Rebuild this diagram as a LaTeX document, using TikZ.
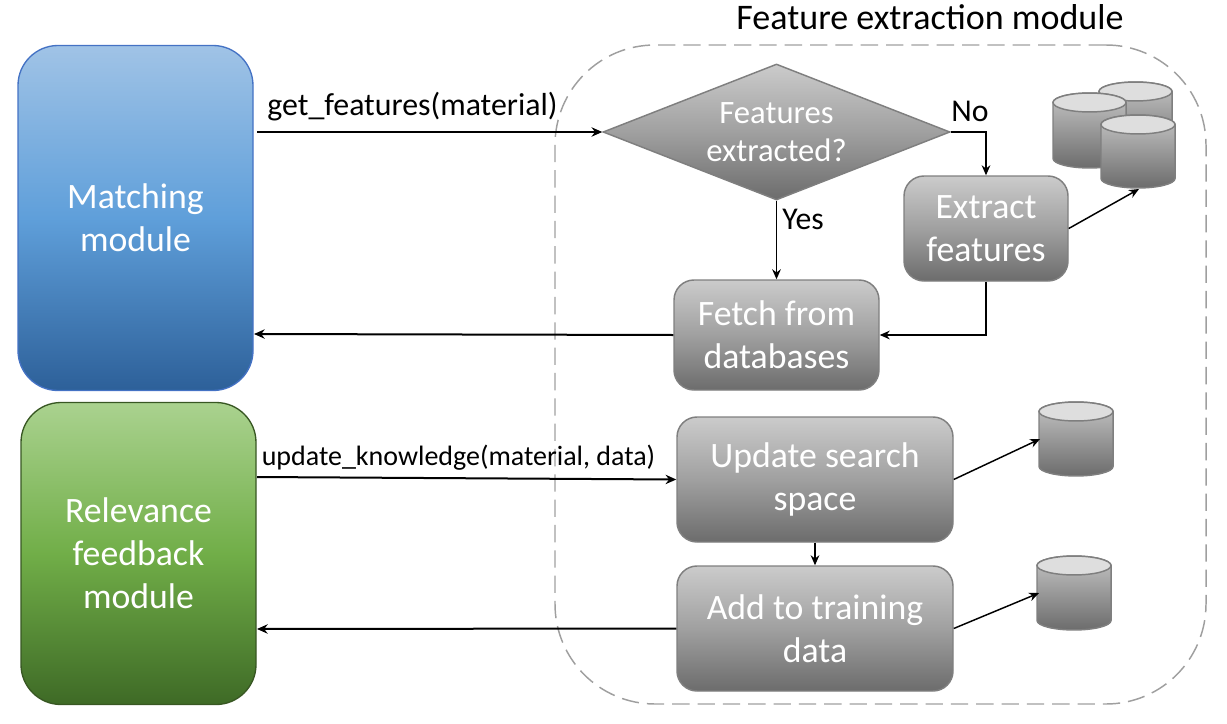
\documentclass[tikz,border=0pt]{standalone}
\usepackage{fontspec}
\setmainfont{Carlito}
\usetikzlibrary{shapes.geometric,arrows.meta}
\definecolor{gtop}{HTML}{CBCBCB}
\definecolor{gmid}{HTML}{A0A0A0}
\definecolor{gbot}{HTML}{6C6C6C}
\definecolor{gline}{HTML}{7F7F7F}
\definecolor{blueline}{HTML}{4472C4}
\definecolor{blueA}{HTML}{A0C3E6}
\definecolor{blueB}{HTML}{5F9FDA}
\definecolor{blueC}{HTML}{2D6099}
\definecolor{greenline}{HTML}{385723}
\definecolor{greenA}{HTML}{AAD28F}
\definecolor{greenB}{HTML}{71AE48}
\definecolor{greenC}{HTML}{3E6A26}
\tikzset{
  x=0.75pt,y=-0.75pt,
  big/.style={font=\fontsize{26.8}{32.3}\selectfont,text=white,align=center},
  gbox/.style={draw=gline,line width=1.1pt,rounded corners=15pt,top color=gtop,bottom color=gbot,middle color=gmid,inner sep=0pt,big},
  modbox/.style={rounded corners=30pt,inner sep=0pt,big,line width=1pt},
  link/.style={-{Stealth[length=8pt,width=7pt]},line width=1.5pt,black},
  flow/.style={-{Stealth[length=7.5pt,width=6.5pt]},line width=1.1pt,black},
  lab/.style={inner sep=0pt,text=black},
}
\newcommand{\dbcyl}[4]{% left, right, top, bottom (px)
  \pgfmathsetmacro{\cx}{(#1+#2)/2}
  \pgfmathsetmacro{\rx}{(#2-#1)/2*0.75}
  \path[draw=gline,line width=1.1pt,top color=gtop!85!gmid,bottom color=gbot]
    (#1,#3+9.5) -- (#1,#4-9.5) arc[start angle=180,end angle=360,x radius=\rx pt,y radius=7.1pt]
    -- (#2,#3+9.5) arc[start angle=0,end angle=180,x radius=\rx pt,y radius=7.1pt] -- cycle;
  \path[draw=gline,line width=1.1pt,fill=black!13] (\cx,#3+9.5) ellipse[x radius=\rx pt,y radius=7.1pt];
}
\begin{document}
\begin{tikzpicture}
\useasboundingbox (0,0) rectangle (1227,724);
% container
\node[draw=gray!75,dash pattern=on 13pt off 6pt,line width=1.1pt,rounded corners=75pt,minimum width=488.25pt,minimum height=494.25pt,inner sep=0pt] (fem) at (880.5,374.5) {};
\node[lab,font=\fontsize{27}{30}\selectfont] (femt) at (930,17) {Feature extraction module};
% modules
\node[modbox,draw=blueline,minimum width=176.25pt,minimum height=258.75pt,top color=blueA,bottom color=blueC,middle color=blueB] (match) at (135.5,218) {Matching\\module};
\node[modbox,draw=greenline,minimum width=176.25pt,minimum height=226.5pt,top color=greenA,bottom color=greenC,middle color=greenB] (relev) at (138.5,553.5) {Relevance\\feedback\\module};
% flow shapes
\node[diamond,draw=gline,line width=1.1pt,top color=gtop,bottom color=gbot,middle color=gmid,minimum width=260.25pt,minimum height=102pt,inner sep=0pt,aspect=2.55] (dec) at (776.5,132) {};
\node[text=white,align=center,font=\fontsize{24.5}{28.5}\selectfont,inner sep=0pt] (dect) at (776.5,132.5) {Features\\extracted?};
\node[gbox,minimum width=123pt,minimum height=78.75pt] (ext) at (986,228.5) {Extract\\features};
\node[gbox,minimum width=153.75pt,minimum height=82.5pt] (fetch) at (776.5,335) {Fetch from\\databases};
\node[gbox,minimum width=207pt,minimum height=93.75pt] (upd) at (815,479.5) {Update search\\space};
\node[gbox,minimum width=207pt,minimum height=93.75pt] (add) at (815,628.5) {Add to training\\data};
% databases
\dbcyl{1099}{1172}{82}{156}
\dbcyl{1053}{1126}{93}{168}
\dbcyl{1101}{1175}{115}{188}
\dbcyl{1039}{1113}{402}{476}
\dbcyl{1037}{1111}{556}{630}
\coordinate (dbA) at (1139,189);
\coordinate (dbB) at (1040,439);
\coordinate (dbC) at (1039,593);
\coordinate (gf) at (257,132);
\coordinate (uk) at (257,477);
\coordinate (fb) at (254,334);
\coordinate (ab) at (257,629);
% connectors
\draw[link] (gf) -- (dec.west);
\draw[flow] (dec.east) -| (ext.north);
\draw[flow] (dec.south) -- (fetch.north);
\draw[flow] (ext.south) |- (fetch.east);
\draw[flow] (ext.east) -- (dbA);
\draw[link] (fetch.west) -- (fb);
\draw[link] (uk) -- (upd.west);
\draw[flow] (upd.east) -- (dbB);
\draw[flow] (upd.south) -- (add.north);
\draw[flow] (add.east) -- (dbC);
\draw[link] (add.west) -- (ab);
% labels
\node[lab,font=\fontsize{23.9}{26}\selectfont] (l1) at (412.5,107) {get\_features(material)};
\node[lab,font=\fontsize{21}{24}\selectfont] (l2) at (458.5,458) {update\_knowledge(material, data)};
\node[lab,font=\fontsize{23.8}{26}\selectfont] (l3) at (970,111) {No};
\node[lab,font=\fontsize{23.8}{26}\selectfont] (l4) at (803,219) {Yes};
\end{tikzpicture}
\end{document}
